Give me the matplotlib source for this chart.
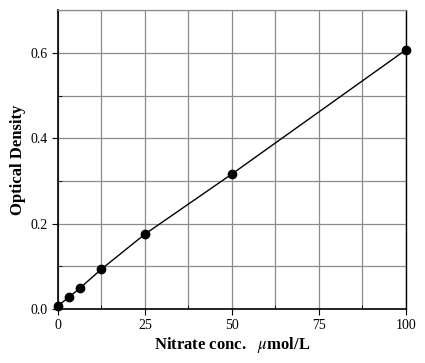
import numpy as np
import matplotlib.pyplot as plt
from matplotlib.ticker import MultipleLocator

# 数据
conc = [0, 3.125, 6.25, 12.5, 25, 50, 100]
od = [0.007, 0.027, 0.048, 0.093, 0.175, 0.316, 0.607]

plt.rcParams['font.family'] = ['Liberation Serif', 'DejaVu Serif']
plt.rcParams['mathtext.fontset'] = 'stix'

fig = plt.figure(figsize=(4.25, 3.63), dpi=100)
ax = fig.add_axes([0.136, 0.149, 0.819, 0.823])

ax.plot(conc, od, '-', color='black', lw=1, zorder=3)
ax.plot(conc, od, 'o', color='black', ms=6, zorder=4, clip_on=False)

ax.set_xlim(0, 100)
ax.set_ylim(0, 0.7)
ax.xaxis.set_major_locator(MultipleLocator(25))
ax.xaxis.set_minor_locator(MultipleLocator(12.5))
ax.yaxis.set_major_locator(MultipleLocator(0.2))
ax.yaxis.set_minor_locator(MultipleLocator(0.1))
ax.set_yticklabels([f"{v:.1f}" for v in ax.get_yticks()])

ax.grid(True, which='both', color='#8c8c8c', lw=0.9)
ax.set_axisbelow(True)
ax.tick_params(which='major', direction='out', length=4, labelsize=10, width=0.8)
ax.tick_params(which='minor', direction='in', length=3)
for s in ax.spines.values():
    s.set_linewidth(1.2)
ax.spines['top'].set_color('#8c8c8c')
ax.spines['top'].set_linewidth(0.9)
ax.spines['right'].set_linewidth(1.0)

ax.set_xlabel(r"Nitrate conc.   $\mathit{\mu}$mol/L", fontsize=12, fontweight='bold', labelpad=2)
ax.set_ylabel("Optical Density", fontsize=12, fontweight='bold', labelpad=3)

fig.savefig("out.png", dpi=100)
